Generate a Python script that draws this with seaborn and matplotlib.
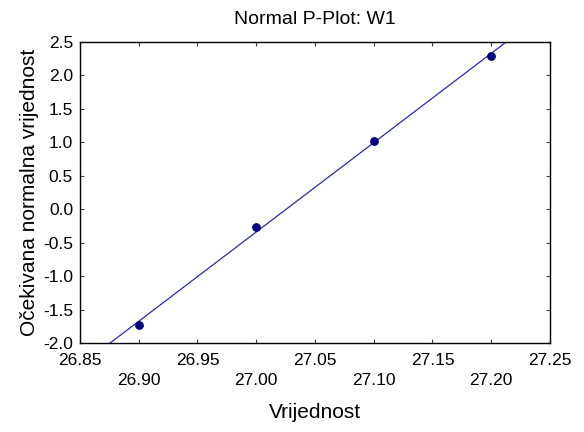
import numpy as np
import pandas as pd
import matplotlib
matplotlib.use("Agg")
import matplotlib.pyplot as plt
import seaborn as sns

# Data
vrijednost = [26.90, 27.00, 27.10, 27.20]
ocekivana = [-1.73, -0.27, 1.02, 2.29]
x_ticks = [26.85, 26.90, 26.95, 27.00, 27.05, 27.10, 27.15, 27.20, 27.25]
y_ticks = [-2.0, -1.5, -1.0, -0.5, 0.0, 0.5, 1.0, 1.5, 2.0, 2.5]

df = pd.DataFrame({"Vrijednost": vrijednost, "Ocekivana": ocekivana})

sns.set_style("ticks")
plt.rcParams["font.family"] = ["Liberation Sans", "DejaVu Sans"]
plt.rcParams["text.color"] = "black"
plt.rcParams["axes.labelcolor"] = "black"
plt.rcParams["xtick.color"] = "black"
plt.rcParams["ytick.color"] = "black"

fig = plt.figure(figsize=(5.84, 4.32), dpi=100)
ax = fig.add_axes([80 / 584, 1 - 343 / 432, 470 / 584, 301 / 432])

ax.set_xlim(26.85, 27.25)
ax.set_ylim(-2.0, 2.5)

sns.regplot(data=df, x="Vrijednost", y="Ocekivana", ax=ax, ci=None,
            truncate=False,
            scatter_kws={"s": 40, "color": "#000080", "alpha": 1,
                         "linewidths": 0, "zorder": 3},
            line_kws={"color": "#2a2aa8", "linewidth": 0.9})

ax.set_xlim(26.85, 27.25)
ax.set_ylim(-2.0, 2.5)

ax.set_xticks(x_ticks)
ax.set_xticklabels([f"{v:.2f}" if i % 2 == 0 else f"\n{v:.2f}"
                    for i, v in enumerate(x_ticks)], fontsize=12.5,
                   linespacing=1.45)
ax.set_yticks(y_ticks)
ax.set_yticklabels([f"{v:.1f}" for v in y_ticks], fontsize=12.5)

ax.tick_params(direction="in", length=3, width=0.8, top=True, right=True,
               color="#404040")
ax.tick_params(axis="x", pad=7)
ax.tick_params(axis="y", pad=5)
for s in ax.spines.values():
    s.set_linewidth(1.0)
    s.set_color("black")

ax.set_title("Normal P-Plot: W1", fontsize=14, pad=13)
ax.set_xlabel("Vrijednost", fontsize=15, labelpad=11)
ax.set_ylabel("Očekivana normalna vrijednost", fontsize=15, labelpad=3)

fig.savefig("out.png", dpi=100)
